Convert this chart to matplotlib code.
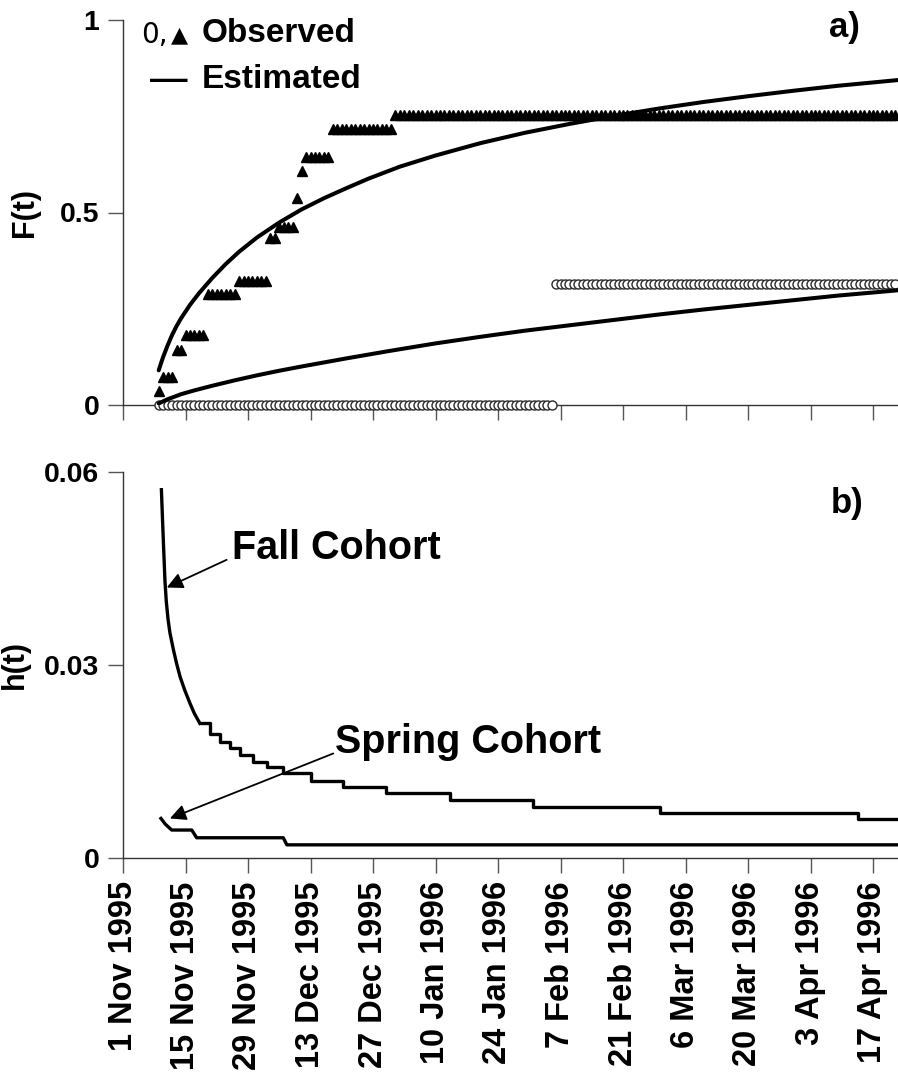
import numpy as np
import matplotlib
matplotlib.use("Agg")
import matplotlib.pyplot as plt

plt.rcParams["font.family"] = ["Liberation Sans", "DejaVu Sans"]
plt.rcParams["font.weight"] = "bold"

# ── Data (days since 1 Nov 1995) ────────────────────────────────────────────

tick_labels = ["1 Nov 1995", "15 Nov 1995", "29 Nov 1995", "13 Dec 1995",
               "27 Dec 1995", "10 Jan 1996", "24 Jan 1996", "7 Feb 1996",
               "21 Feb 1996", "6 Mar 1996", "20 Mar 1996", "3 Apr 1996",
               "17 Apr 1996"]
tick_days = [0, 14, 28, 42, 56, 70, 84, 98, 112, 126, 140, 154, 168]

# observed F(t), fall cohort (triangles): level changes
fall_obs_start = [8, 9, 12, 14, 19, 26, 33, 35, 39, 40, 41, 47, 61]
fall_obs_level = [0.037, 0.072, 0.143, 0.182, 0.288, 0.322, 0.434, 0.463,
                  0.537, 0.608, 0.645, 0.716, 0.753]
# observed F(t), spring cohort (circles)
spring_obs_start = [8, 97]
spring_obs_level = [0.0, 0.314]
obs_days = np.arange(8, 174)

# estimated F(t)
fall_est_day = [8, 8.5, 9, 10, 11, 12, 13, 15, 17, 20, 23, 26, 30, 35, 40,
                45, 50, 55, 62, 70, 80, 90, 100, 110, 120, 130, 140, 150,
                160, 173.6]
fall_est_F = [0.09, 0.108, 0.125, 0.155, 0.182, 0.205, 0.225, 0.26, 0.29,
              0.33, 0.366, 0.398, 0.435, 0.474, 0.508, 0.537, 0.563, 0.588,
              0.619, 0.648, 0.68, 0.707, 0.73, 0.751, 0.77, 0.787, 0.802,
              0.816, 0.829, 0.844]
spring_est_day = [8, 10, 13, 16, 20, 25, 30, 35, 40, 50, 60, 70, 80, 90,
                  100, 110, 120, 130, 140, 150, 160, 173.6]
spring_est_F = [0.004, 0.015, 0.028, 0.038, 0.05, 0.064, 0.077, 0.089, 0.10,
                0.121, 0.141, 0.16, 0.177, 0.193, 0.207, 0.221, 0.235,
                0.248, 0.26, 0.272, 0.284, 0.298]

# hazard h(t), fall cohort: smooth early part, then stepped
fall_h_day = [8.6, 9.0, 9.4, 9.7, 10.1, 10.5, 11.3, 12.0, 12.8, 13.8, 15,
              16, 17.2]
fall_h = [0.0572, 0.0499, 0.0430, 0.0398, 0.0370, 0.0350, 0.0323, 0.0302,
          0.0281, 0.0261, 0.0240, 0.0224, 0.0209]
fall_h_step_day = [17.2, 19.5, 21.7, 24, 26.2, 29.2, 32.2, 35.9, 42, 49.3,
                   59, 73.3, 91.9, 120.3, 164.7, 173.6]
fall_h_step = [0.0209, 0.0193, 0.0180, 0.0170, 0.0160, 0.0149, 0.0141,
               0.0131, 0.0120, 0.0110, 0.0101, 0.0090, 0.0079, 0.0070,
               0.0060, 0.0060]
# hazard h(t), spring cohort
spring_h_day = [8.5, 9.5, 10.9, 15.4, 16.5, 35.9, 36.7, 173.6]
spring_h = [0.0061, 0.0052, 0.0043, 0.0043, 0.0031, 0.0031, 0.0020, 0.0020]


def step_lookup(days, starts, levels):
    idx = np.searchsorted(starts, days, side="right") - 1
    return np.asarray(levels)[idx]


W, H = 898, 1083


def fx(x):
    return x / W


def fy(y):
    return 1 - y / H


fig = plt.figure(figsize=(W / 100, H / 100), dpi=100)
ax1 = fig.add_axes([fx(123), fy(405), (W - 123) / W, 385 / H])
ax2 = fig.add_axes([fx(123), fy(857.7), (W - 123) / W, 386 / H])

for ax in (ax1, ax2):
    for s in ("top", "right"):
        ax.spines[s].set_visible(False)
    for s in ("left", "bottom"):
        ax.spines[s].set_color("#333333")
        ax.spines[s].set_linewidth(1.0)
    ax.set_xlim(0, 173.6)
    ax.set_xticks(tick_days)
    ax.tick_params(axis="both", direction="out", length=11, width=1,
                   color="#555555", labelsize=20.5, pad=6)

# ── Panel a) ────────────────────────────────────────────────────────────────
ax1.plot(obs_days, step_lookup(obs_days, spring_obs_start, spring_obs_level),
         linestyle="none", marker="o", markersize=6.5, markerfacecolor="white",
         markeredgecolor="#2a2a2a", markeredgewidth=1.0, clip_on=False,
         zorder=3)
ax1.plot(obs_days, step_lookup(obs_days, fall_obs_start, fall_obs_level),
         linestyle="none", marker="^", markersize=7, color="black",
         zorder=3)
ax1.plot(fall_est_day, fall_est_F, color="black", linewidth=2.9, zorder=4,
         solid_capstyle="round")
ax1.plot(spring_est_day, spring_est_F, color="black", linewidth=2.9, zorder=4,
         solid_capstyle="round")
ax1.set_ylim(0, 1)
ax1.set_yticks([0, 0.5, 1])
ax1.set_yticklabels(["0", "0.5", "1"])
ax1.set_xticklabels([])
ax1.set_ylabel("F(t)", fontsize=22, fontweight="bold", labelpad=14)

# ── Panel b) ────────────────────────────────────────────────────────────────
ax2.plot(fall_h_day, fall_h, color="black", linewidth=2.4)
ax2.step(fall_h_step_day, fall_h_step, where="post", color="black",
         linewidth=2.4)
ax2.plot(spring_h_day, spring_h, color="black", linewidth=2.4)
ax2.set_ylim(0, 0.06)
ax2.set_yticks([0, 0.03, 0.06])
ax2.set_yticklabels(["0", "0.03", "0.06"])
ax2.set_xticklabels(tick_labels, rotation=90, fontsize=23.5, va="top")
ax2.set_ylabel("h(t)", fontsize=22, fontweight="bold", labelpad=10)

arrow = dict(arrowstyle="-|>", color="black", lw=1.3, mutation_scale=24,
             shrinkA=0, shrinkB=0)
ax2.annotate("", xy=(9.8, 0.0420), xytext=(23.2, 0.0463), arrowprops=arrow)
ax2.annotate("", xy=(10.5, 0.0061), xytext=(47.1, 0.0162), arrowprops=arrow)
ax2.text(24.5, 0.0482, "Fall Cohort", fontsize=28.5, fontweight="bold",
         ha="left", va="center")
ax2.text(47.5, 0.0180, "Spring Cohort", fontsize=28.5, fontweight="bold",
         ha="left", va="center")

# ── Panel labels and key ────────────────────────────────────────────────────
fig.text(fx(860), fy(28), "a)", fontsize=25, fontweight="bold",
         ha="right", va="center")
fig.text(fx(864), fy(503), "b)", fontsize=25, fontweight="bold",
         ha="right", va="center")

fig.text(fx(141), fy(35), "0,", fontsize=20, fontweight="normal",
         family=["DejaVu Sans"], ha="left", va="center")
fig.text(fx(171), fy(35), "\u25b2", fontsize=16, family=["DejaVu Sans"],
         ha="left", va="center")
fig.text(fx(202), fy(34), "Observed", fontsize=24, fontweight="bold",
         ha="left", va="center")
fig.text(fx(148), fy(80), "\u2014", fontsize=30, fontweight="normal",
         family=["DejaVu Sans"], ha="left", va="center")
fig.text(fx(202), fy(79), "Estimated", fontsize=24, fontweight="bold",
         ha="left", va="center")

fig.savefig("out.png", dpi=100)
